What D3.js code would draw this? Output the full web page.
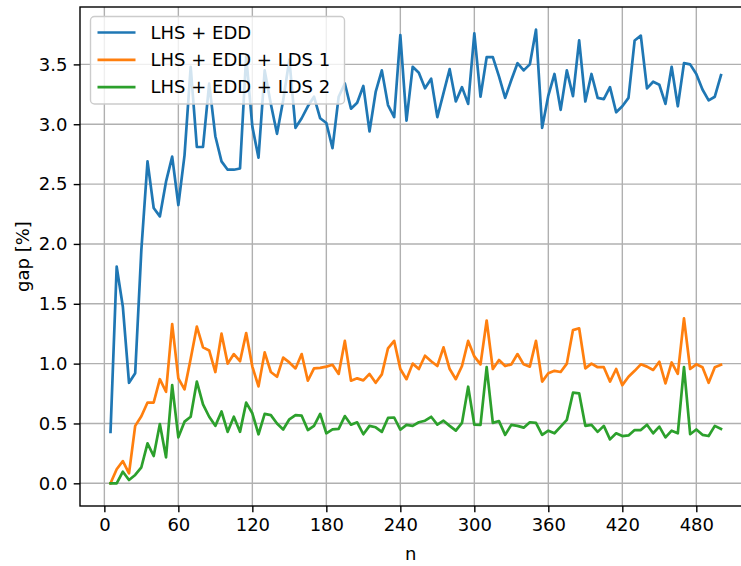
<!DOCTYPE html>
<html>
<head>
<meta charset="utf-8">
<script src="https://cdn.jsdelivr.net/npm/d3@7"></script>
<style>
  html, body { margin: 0; padding: 0; background: #fff; }
  svg { display: block; font-family: "DejaVu Sans", sans-serif; }
</style>
</head>
<body>
<svg id="chart"></svg>
<script>
// n = 5, 10, ..., 500
const nValues = d3.range(5, 501, 5);

const seriesNames = ['LHS + EDD', 'LHS + EDD + LDS 1', 'LHS + EDD + LDS 2'];
const seriesColors = ['#1f77b4', '#ff7f0e', '#2ca02c'];

const gapEdd = [
    0.43, 1.81, 1.475, 0.84, 0.92, 1.95, 2.69, 2.30, 2.23, 2.52,
    2.73, 2.325, 2.74, 3.48, 2.81, 2.81, 3.34, 2.90, 2.69, 2.62,
    2.62, 2.63, 3.57, 2.98, 2.72, 3.45, 3.17, 2.92, 3.20, 3.54,
    2.97, 3.05, 3.15, 3.23, 3.05, 3.01, 2.80, 3.23, 3.34, 3.13,
    3.18, 3.32, 2.94, 3.27, 3.45, 3.16, 3.06, 3.745, 3.03, 3.48,
    3.43, 3.30, 3.38, 3.06, 3.26, 3.46, 3.19, 3.31, 3.17, 3.76,
    3.23, 3.56, 3.56, 3.40, 3.22, 3.37, 3.51, 3.45, 3.50, 3.79,
    2.97, 3.24, 3.42, 3.12, 3.45, 3.235, 3.70, 3.19, 3.42, 3.22,
    3.21, 3.31, 3.10, 3.15, 3.22, 3.70, 3.74, 3.30, 3.355, 3.33,
    3.17, 3.48, 3.15, 3.51, 3.50, 3.42, 3.29, 3.20, 3.23, 3.41
];

const gapLds1 = [
    0, 0.117, 0.186, 0.083, 0.48, 0.56, 0.675, 0.675, 0.87, 0.765,
    1.33, 0.877, 0.785, 1.04, 1.31, 1.136, 1.11, 0.93, 1.25, 1.0,
    1.08, 1.02, 1.255, 0.975, 0.81, 1.094, 0.93, 0.89, 1.05, 1.01,
    0.96, 1.08, 0.857, 0.96, 0.965, 0.975, 0.99, 0.914, 1.19, 0.857,
    0.877, 0.86, 0.914, 0.84, 0.91, 1.128, 1.19, 0.955, 0.87, 1.0,
    0.955, 1.066, 1.02, 0.98, 1.136, 0.955, 0.87, 0.98, 1.19, 1.06,
    0.994, 1.36, 0.955, 1.03, 0.98, 0.994, 1.08, 0.994, 0.975, 1.19,
    0.85, 0.92, 0.94, 0.93, 1.0, 1.28, 1.295, 0.96, 1.0, 0.97,
    0.97, 0.85, 0.955, 0.82, 0.89, 0.94, 0.994, 0.975, 0.947, 1.016,
    0.835, 1.01, 0.914, 1.378, 0.955, 0.994, 0.97, 0.84, 0.97, 0.99
];

const gapLds2 = [
    0, 0, 0.097, 0.028, 0.07, 0.134, 0.334, 0.228, 0.495, 0.217,
    0.82, 0.384, 0.515, 0.556, 0.85, 0.66, 0.556, 0.48, 0.60, 0.43,
    0.556, 0.43, 0.674, 0.585, 0.41, 0.58, 0.57, 0.50, 0.45, 0.535,
    0.57, 0.565, 0.445, 0.48, 0.58, 0.418, 0.45, 0.455, 0.562, 0.49,
    0.51, 0.41, 0.48, 0.468, 0.43, 0.546, 0.55, 0.448, 0.488, 0.48,
    0.51, 0.523, 0.556, 0.49, 0.523, 0.48, 0.44, 0.505, 0.807, 0.49,
    0.488, 0.97, 0.505, 0.52, 0.405, 0.488, 0.48, 0.465, 0.51, 0.505,
    0.405, 0.44, 0.418, 0.474, 0.53, 0.757, 0.752, 0.48, 0.488, 0.43,
    0.48, 0.367, 0.418, 0.395, 0.40, 0.445, 0.445, 0.49, 0.418, 0.474,
    0.384, 0.44, 0.418, 0.97, 0.41, 0.45, 0.405, 0.395, 0.48, 0.455
];

const xTicks = [0, 60, 120, 180, 240, 300, 360, 420, 480];
const yTicks = [0, 0.5, 1.0, 1.5, 2.0, 2.5, 3.0, 3.5];

const W = 741, H = 566;
const fontSize = 18;
// axes box (right edge falls just outside the picture)
const plot = { left: 80, top: 7, right: 751.5, bottom: 506 };

const allSeries = [gapEdd, gapLds1, gapLds2];

const svg = d3.select('#chart')
    .attr('width', W)
    .attr('height', H)
    .style('font-size', fontSize + 'px');

// matplotlib-like 5% margins
const xExt = d3.extent(nValues);
const xPad = (xExt[1] - xExt[0]) * 0.05;
const x = d3.scaleLinear()
    .domain([xExt[0] - xPad, xExt[1] + xPad])
    .range([plot.left, plot.right]);

const yExt = d3.extent(allSeries.flat());
const yPad = (yExt[1] - yExt[0]) * 0.05;
const y = d3.scaleLinear()
    .domain([yExt[0] - yPad, yExt[1] + yPad])
    .range([plot.bottom, plot.top]);

// grid
const grid = svg.append('g')
    .attr('stroke', '#b0b0b0')
    .attr('stroke-width', 1.4);
grid.selectAll('.gx')
    .data(xTicks)
    .enter()
    .append('line')
    .attr('x1', d => x(d)).attr('x2', d => x(d))
    .attr('y1', plot.top).attr('y2', plot.bottom);
grid.selectAll('.gy')
    .data(yTicks)
    .enter()
    .append('line')
    .attr('x1', plot.left).attr('x2', plot.right)
    .attr('y1', d => y(d)).attr('y2', d => y(d));

// lines
const line = d3.line()
    .x((d, i) => x(nValues[i]))
    .y(d => y(d));

svg.append('g')
    .selectAll('path')
    .data(allSeries)
    .enter()
    .append('path')
    .attr('fill', 'none')
    .attr('stroke', (d, i) => seriesColors[i])
    .attr('stroke-width', 2.7)
    .attr('stroke-linejoin', 'round')
    .attr('stroke-linecap', 'square')
    .attr('d', line);

// axes
const xAxis = d3.axisBottom(x)
    .tickValues(xTicks)
    .tickFormat(d3.format('d'))
    .tickSize(6.3)
    .tickPadding(6.3)
    .tickSizeOuter(0);
const yAxis = d3.axisLeft(y)
    .tickValues(yTicks)
    .tickFormat(d3.format('.1f'))
    .tickSize(6.3)
    .tickPadding(6.3)
    .tickSizeOuter(0);

const gx = svg.append('g')
    .attr('transform', `translate(0,${plot.bottom})`)
    .call(xAxis);
const gy = svg.append('g')
    .attr('transform', `translate(${plot.left},0)`)
    .call(yAxis);

[gx, gy].forEach(g => {
    g.select('.domain').remove();
    g.selectAll('.tick line').attr('stroke', '#000').attr('stroke-width', 1.4);
    g.selectAll('.tick text')
        .attr('fill', '#000')
        .style('font-family', '"DejaVu Sans", sans-serif')
        .style('font-size', fontSize + 'px');
});

// spines
svg.append('rect')
    .attr('x', plot.left)
    .attr('y', plot.top)
    .attr('width', plot.right - plot.left)
    .attr('height', plot.bottom - plot.top)
    .attr('fill', 'none')
    .attr('stroke', '#000')
    .attr('stroke-width', 1.4);

// axis labels
svg.append('text')
    .attr('x', (plot.left + plot.right) / 2 - 5)
    .attr('y', 560)
    .attr('text-anchor', 'middle')
    .text('n');

svg.append('text')
    .attr('transform', `translate(29,${(plot.top + plot.bottom) / 2}) rotate(-90)`)
    .attr('text-anchor', 'middle')
    .text('gap [%]');

// legend
const legend = svg.append('g')
    .attr('transform', 'translate(90.5,16.5)');
legend.append('rect')
    .attr('width', 254)
    .attr('height', 87.5)
    .attr('rx', 4)
    .attr('fill', '#fff')
    .attr('fill-opacity', 0.8)
    .attr('stroke', '#cccccc')
    .attr('stroke-width', 1.4);

const rows = legend.selectAll('.row')
    .data(seriesNames)
    .enter()
    .append('g')
    .attr('transform', (d, i) => `translate(0,${16 + i * 27.3})`);
rows.append('line')
    .attr('x1', 7).attr('x2', 45)
    .attr('stroke', (d, i) => seriesColors[i])
    .attr('stroke-width', 2.7);
rows.append('text')
    .attr('x', 60)
    .attr('dy', '0.35em')
    .text(d => d);
</script>
</body>
</html>
